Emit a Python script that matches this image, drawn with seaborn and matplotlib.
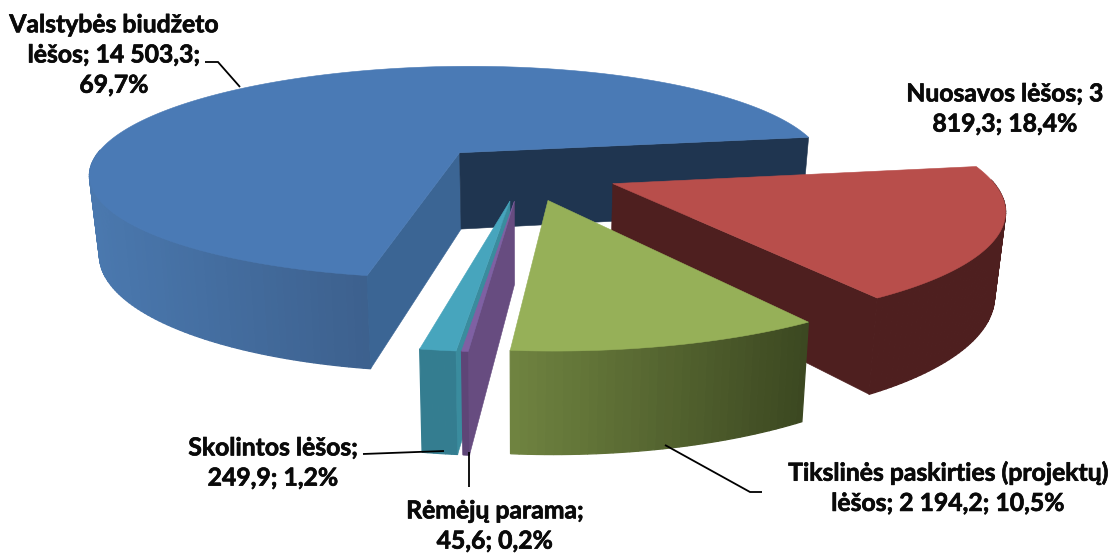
import numpy as np
import matplotlib
matplotlib.use("Agg")
import matplotlib.pyplot as plt
import matplotlib.patheffects as pe
import seaborn as sns

# ---- data -------------------------------------------------------------
categories = ["Nuosavos lėšos", "Tikslinės paskirties (projektų) lėšos",
              "Rėmėjų parama", "Skolintos lėšos", "Valstybės biudžeto lėšos"]
values = [3819.3, 2194.2, 45.6, 249.9, 14503.3]
label_texts = ["Nuosavos lėšos; 3\n819,3; 18,4%",
               "Tikslinės paskirties (projektų)\nlėšos; 2 194,2; 10,5%",
               "Rėmėjų parama;\n45,6; 0,2%",
               "Skolintos lėšos;\n249,9; 1,2%",
               "Valstybės biudžeto\nlėšos; 14 503,3;\n69,7%"]
label_xy = [(1005, 109), (948, 488), (495, 526), (273, 463), (114, 55)]
leaders = [None,
           [(665, 445), (750, 492), (762, 492)],
           [(469, 452), (469, 487)],
           [(363, 454), (444, 451)],
           [(205, 62), (218, 62), (240, 87)]]
top_colors = ["#B84E4B", "#96B058", "#7F60A3", "#47A5BD", "#4A7AB5"]
wall_left = ["#4E1F1F", "#6F8340", "#5E4577", "#347D90", "#4A78AE"]
wall_right = ["#4E1F1F", "#3B4720", "#5E4577", "#347D90", "#3C5F8C"]
face_first = ["#4E1F1F", "#4E1F1F", "#674C80", "#3A8C9E", "#3B6594"]
face_last = ["#4E1F1F", "#6F8340", "#674C80", "#3A8C9E", "#1F3550"]
draw_order = [4, 0, 3, 2, 1]

# ---- projection of the tilted disc ------------------------------------
START_DEG = 8.9
CX, CY = 524.0, 172.0
RX, RY = 374.0, 109.5
EXPLODE = 0.255
PERSP = 0.19
HEIGHT = 79.0
BOTTOM_SHRINK = 0.977


def project(u, v, bottom=False):
    s = 1.0 / (1.0 + PERSP * v)
    x = CX + RX * u * s
    y = CY - RY * v * s
    if bottom:
        x = CX + (x - CX) * BOTTOM_SHRINK
        y = y + HEIGHT * s
    return x, y


sns.set_theme(style="white")
plt.rcParams["font.family"] = ["Lato", "Open Sans", "DejaVu Sans"]
fig = plt.figure(figsize=(11.14, 5.54), dpi=100)
ax = fig.add_axes([0, 0, 1, 1])
ax.set_xlim(0, 1114)
ax.set_ylim(554, 0)
ax.axis("off")

spans = 360.0 * np.array(values) / np.sum(values)
ends = START_DEG - np.cumsum(spans)
starts = ends + spans


def fill(xs, ys, color, z, lw=0.4):
    ax.fill(xs, ys, facecolor=color, edgecolor=color, lw=lw, zorder=z)


for rank, i in enumerate(draw_order):
    z = 2 + rank
    mid = np.radians((starts[i] + ends[i]) / 2)
    ou, ov = EXPLODE * np.cos(mid), EXPLODE * np.sin(mid)
    n = max(int(spans[i]), 6)
    ang = np.radians(np.linspace(starts[i], ends[i], n + 1))
    u = ou + np.cos(ang)
    v = ov + np.sin(ang)
    tx, ty = project(u, v)
    bx, by = project(u, v, bottom=True)
    ax_, ay_ = project(ou, ov)
    abx, aby = project(ou, ov, bottom=True)

    # outer wall, only where it faces the viewer, in gradient bands
    grad = sns.blend_palette([wall_left[i], wall_right[i]], 64)
    x_lo, x_hi = tx.min(), tx.max()
    width = 290.0 if i == 4 else max(x_hi - x_lo, 1)
    for k in range(n):
        if np.sin((ang[k] + ang[k + 1]) / 2) > 0.03:
            continue
        t = ((tx[k] + tx[k + 1]) / 2 - x_lo) / width
        col = grad[int(np.clip(t, 0, 1) * 63)]
        fill([tx[k], tx[k + 1], bx[k + 1], bx[k]],
             [ty[k], ty[k + 1], by[k + 1], by[k]], col, z + 0.1, lw=0.9)

    # inner faces whose outward normal points towards the viewer
    if np.cos(ang[0]) < 0:
        fill([ax_, tx[0], bx[0], abx], [ay_, ty[0], by[0], aby],
             face_first[i], z + 0.15)
    if np.cos(ang[-1]) > 0:
        fill([ax_, tx[-1], bx[-1], abx], [ay_, ty[-1], by[-1], aby],
             face_last[i], z + 0.15)

    # top surface
    fill(np.r_[ax_, tx], np.r_[ay_, ty], top_colors[i], z + 0.2)

for (lx, ly), txt, lead in zip(label_xy, label_texts, leaders):
    ax.text(lx, ly, txt, ha="center", va="center", fontsize=17.8,
            fontweight="bold", color="#0A0A0A", linespacing=1.38, zorder=20,
            path_effects=[pe.withStroke(linewidth=0.5, foreground="#0A0A0A")])
    if lead:
        ax.plot(*zip(*lead), color="black", lw=1.3, zorder=15,
                solid_capstyle="butt", solid_joinstyle="miter")

fig.savefig("out.png", dpi=100, facecolor="white")
